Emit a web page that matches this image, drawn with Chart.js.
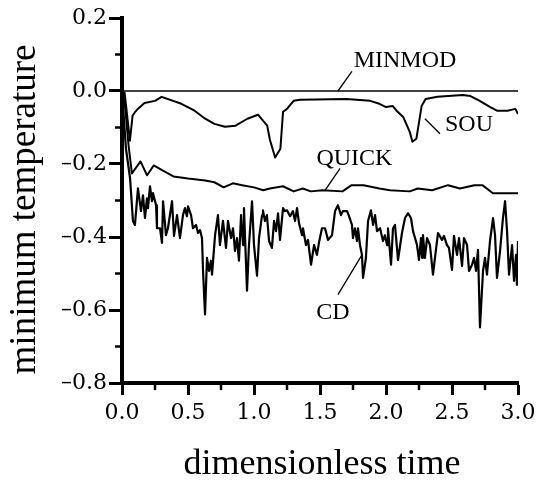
<!DOCTYPE html>
<html><head><meta charset="utf-8">
<script src="https://cdn.jsdelivr.net/npm/chart.js@4.4.1/dist/chart.umd.min.js"></script>
<style>html,body{margin:0;padding:0;background:#fff}canvas{display:block}</style>
</head><body>
<canvas id="c" width="551" height="482"></canvas>
<script>
// ---- data (time, minimum temperature) ----
const minmodSeries = [[0,0],[3.0,0]];
const souSeries = [[0,0],[0.02,-0.005],[0.06,-0.136],[0.08,-0.068],[0.10,-0.057],[0.12,-0.049],[0.17,-0.033],[0.25,-0.027],[0.30,-0.016],[0.45,-0.035],[0.55,-0.054],[0.63,-0.076],[0.70,-0.090],[0.78,-0.098],[0.86,-0.095],[0.95,-0.076],[1.03,-0.065],[1.10,-0.095],[1.12,-0.133],[1.16,-0.182],[1.20,-0.158],[1.22,-0.057],[1.25,-0.049],[1.30,-0.027],[1.35,-0.024],[1.70,-0.022],[1.88,-0.027],[1.95,-0.035],[2.00,-0.044],[2.05,-0.041],[2.08,-0.054],[2.13,-0.071],[2.18,-0.112],[2.20,-0.139],[2.23,-0.131],[2.27,-0.041],[2.30,-0.022],[2.39,-0.016],[2.58,-0.011],[2.64,-0.014],[2.71,-0.027],[2.79,-0.044],[2.84,-0.054],[2.92,-0.054],[2.98,-0.049],[3.00,-0.063]];
const quickSeries = [[0,0],[0.02,-0.03],[0.05,-0.15],[0.075,-0.226],[0.14,-0.193],[0.19,-0.231],[0.24,-0.204],[0.32,-0.220],[0.39,-0.234],[0.50,-0.240],[0.63,-0.245],[0.70,-0.250],[0.77,-0.264],[0.84,-0.253],[0.91,-0.258],[1.00,-0.264],[1.07,-0.272],[1.12,-0.267],[1.22,-0.261],[1.30,-0.275],[1.37,-0.267],[1.43,-0.275],[1.52,-0.272],[1.67,-0.275],[1.74,-0.258],[1.83,-0.258],[1.95,-0.267],[2.03,-0.272],[2.18,-0.275],[2.24,-0.267],[2.35,-0.272],[2.47,-0.258],[2.56,-0.267],[2.67,-0.258],[2.73,-0.258],[2.81,-0.280],[2.90,-0.280],[3.00,-0.280]];
const cdSeries = [[0,0],[0.03,-0.158],[0.061,-0.239],[0.083,-0.356],[0.098,-0.367],[0.121,-0.267],[0.144,-0.329],[0.159,-0.286],[0.174,-0.348],[0.189,-0.294],[0.197,-0.321],[0.212,-0.261],[0.227,-0.302],[0.235,-0.280],[0.258,-0.313],[0.265,-0.376],[0.288,-0.376],[0.303,-0.416],[0.311,-0.302],[0.333,-0.395],[0.348,-0.376],[0.379,-0.302],[0.394,-0.397],[0.417,-0.340],[0.439,-0.403],[0.462,-0.340],[0.477,-0.321],[0.492,-0.343],[0.500,-0.316],[0.523,-0.340],[0.538,-0.376],[0.561,-0.367],[0.576,-0.389],[0.591,-0.381],[0.606,-0.403],[0.614,-0.493],[0.629,-0.612],[0.644,-0.457],[0.659,-0.493],[0.674,-0.465],[0.682,-0.503],[0.705,-0.395],[0.727,-0.340],[0.742,-0.422],[0.765,-0.356],[0.788,-0.430],[0.803,-0.356],[0.826,-0.403],[0.841,-0.376],[0.856,-0.438],[0.871,-0.403],[0.886,-0.465],[0.902,-0.340],[0.917,-0.422],[0.924,-0.321],[0.947,-0.547],[0.962,-0.422],[0.985,-0.302],[1.000,-0.422],[1.023,-0.506],[1.038,-0.403],[1.061,-0.340],[1.068,-0.327],[1.083,-0.356],[1.098,-0.340],[1.114,-0.411],[1.136,-0.430],[1.152,-0.356],[1.167,-0.384],[1.182,-0.335],[1.197,-0.408],[1.220,-0.321],[1.235,-0.329],[1.250,-0.327],[1.273,-0.343],[1.295,-0.329],[1.311,-0.356],[1.326,-0.321],[1.341,-0.362],[1.364,-0.395],[1.371,-0.376],[1.394,-0.422],[1.409,-0.408],[1.432,-0.476],[1.455,-0.422],[1.477,-0.449],[1.492,-0.416],[1.515,-0.376],[1.538,-0.376],[1.561,-0.408],[1.591,-0.395],[1.614,-0.329],[1.636,-0.313],[1.659,-0.340],[1.674,-0.329],[1.705,-0.329],[1.720,-0.343],[1.742,-0.367],[1.750,-0.403],[1.765,-0.376],[1.780,-0.411],[1.788,-0.376],[1.803,-0.422],[1.818,-0.449],[1.826,-0.512],[1.848,-0.457],[1.864,-0.356],[1.886,-0.327],[1.902,-0.367],[1.917,-0.340],[1.932,-0.384],[1.955,-0.376],[1.977,-0.411],[1.992,-0.395],[2.008,-0.422],[2.015,-0.376],[2.038,-0.476],[2.053,-0.376],[2.068,-0.367],[2.091,-0.463],[2.121,-0.389],[2.144,-0.348],[2.167,-0.335],[2.189,-0.348],[2.205,-0.384],[2.235,-0.422],[2.250,-0.463],[2.265,-0.403],[2.273,-0.457],[2.280,-0.395],[2.295,-0.457],[2.311,-0.403],[2.333,-0.422],[2.356,-0.503],[2.371,-0.457],[2.394,-0.389],[2.424,-0.408],[2.439,-0.397],[2.462,-0.422],[2.477,-0.430],[2.500,-0.490],[2.515,-0.397],[2.538,-0.449],[2.553,-0.403],[2.576,-0.479],[2.591,-0.403],[2.614,-0.422],[2.629,-0.493],[2.652,-0.476],[2.667,-0.457],[2.682,-0.493],[2.697,-0.435],[2.712,-0.648],[2.735,-0.493],[2.750,-0.457],[2.765,-0.503],[2.788,-0.411],[2.811,-0.348],[2.826,-0.395],[2.841,-0.512],[2.864,-0.438],[2.886,-0.348],[2.902,-0.302],[2.917,-0.384],[2.932,-0.503],[2.955,-0.422],[2.970,-0.520],[2.985,-0.449],[2.992,-0.531],[3.000,-0.411]];

const seriesNames = ['MINMOD','SOU','QUICK','CD'];
// label anchor (data coords) and leader line ends (data coords)
const noteTextAt  = [[2.144,0.084],[2.629,-0.093],[1.761,-0.185],[1.598,-0.607]];
const noteLineA   = [[1.742,0.054],[2.409,-0.117],[1.652,-0.212],[1.818,-0.449]];
const noteLineB   = [[1.636,0.000],[2.295,-0.076],[1.538,-0.272],[1.636,-0.558]];

const xRange = [0, 3.0], xStep = 0.5;
const yRange = [-0.8, 0.2], yStep = 0.2;
const xMinorTicks = [0.25,0.75,1.25,1.75,2.25,2.75];
const yMinorTicks = [-0.7,-0.5,-0.3,-0.1,0.1];
const xTitle = 'dimensionless time';
const yTitle = 'minimum temperature';

const toXY = s => s.map(p => ({x: p[0], y: p[1]}));
const fmt = v => { const s = Number(v).toFixed(1); return s === '-0.0' ? '0.0' : s.replace('-', '\u2013'); };

const extras = {
  id: 'extras',
  afterDraw(chart) {
    const {ctx, chartArea: ca, scales: {x, y}} = chart;
    ctx.save();
    ctx.strokeStyle = '#000';
    ctx.fillStyle = '#000';
    // minor ticks
    ctx.lineWidth = 2.5;
    ctx.beginPath();
    yMinorTicks.forEach(v => { const py = y.getPixelForValue(v); ctx.moveTo(ca.left - 7, py); ctx.lineTo(ca.left, py); });
    xMinorTicks.forEach(v => { const px = x.getPixelForValue(v); ctx.moveTo(px, ca.bottom); ctx.lineTo(px, ca.bottom + 7); });
    ctx.stroke();
    // series notes
    ctx.lineWidth = 1.3;
    ctx.font = '24px "Liberation Serif"';
    ctx.textAlign = 'center';
    ctx.textBaseline = 'middle';
    seriesNames.forEach((name, i) => {
      ctx.beginPath();
      ctx.moveTo(x.getPixelForValue(noteLineA[i][0]), y.getPixelForValue(noteLineA[i][1]));
      ctx.lineTo(x.getPixelForValue(noteLineB[i][0]), y.getPixelForValue(noteLineB[i][1]));
      ctx.stroke();
      ctx.fillText(name, x.getPixelForValue(noteTextAt[i][0]), y.getPixelForValue(noteTextAt[i][1]));
    });
    // axis titles
    ctx.textBaseline = 'alphabetic';
    ctx.font = '36px "Liberation Serif"';
    ctx.fillText(xTitle, (ca.left + ca.right) / 2 + 2, chart.height - 8);
    ctx.translate(35, (ca.top + ca.bottom) / 2 + 9);
    ctx.rotate(-Math.PI / 2);
    ctx.font = '37px "Liberation Serif"';
    ctx.fillText(yTitle, 0, 0);
    ctx.restore();
  }
};

const tickFont = {family: '"DejaVu Serif"', size: 22};
const lineDs = (label, s, w) => ({label, data: toXY(s), borderColor: '#000', borderWidth: w, pointRadius: 0, tension: 0, fill: false, showLine: true, borderJoinStyle: 'round'});

new Chart(document.getElementById('c'), {
  type: 'scatter',
  data: {
    datasets: [
      lineDs('MINMOD', minmodSeries, 1.6),
      lineDs('SOU', souSeries, 2),
      lineDs('QUICK', quickSeries, 2),
      lineDs('CD', cdSeries, 2.2)
    ]
  },
  options: {
    responsive: false,
    animation: false,
    layout: {padding: {top: 18, right: 33, left: 0, bottom: 0}},
    plugins: {legend: {display: false}, tooltip: {enabled: false}},
    scales: {
      x: {
        type: 'linear', min: xRange[0], max: xRange[1],
        afterFit: s => { s.height = 99; },
        grid: {display: true, drawOnChartArea: false, drawTicks: true, tickLength: 12, tickWidth: 3, tickColor: '#000'},
        border: {display: true, width: 4, color: '#000'},
        ticks: {stepSize: xStep, color: '#000', font: tickFont, padding: 5, maxRotation: 0, callback: v => fmt(v)}
      },
      y: {
        type: 'linear', min: yRange[0], max: yRange[1],
        afterFit: s => { s.width = 122; },
        grid: {display: true, drawOnChartArea: false, drawTicks: true, tickLength: 13, tickWidth: 3, tickColor: '#000'},
        border: {display: true, width: 4, color: '#000'},
        ticks: {stepSize: yStep, color: '#000', font: tickFont, padding: 2, callback: v => fmt(v)}
      }
    }
  },
  plugins: [extras]
});
</script>
</body></html>
